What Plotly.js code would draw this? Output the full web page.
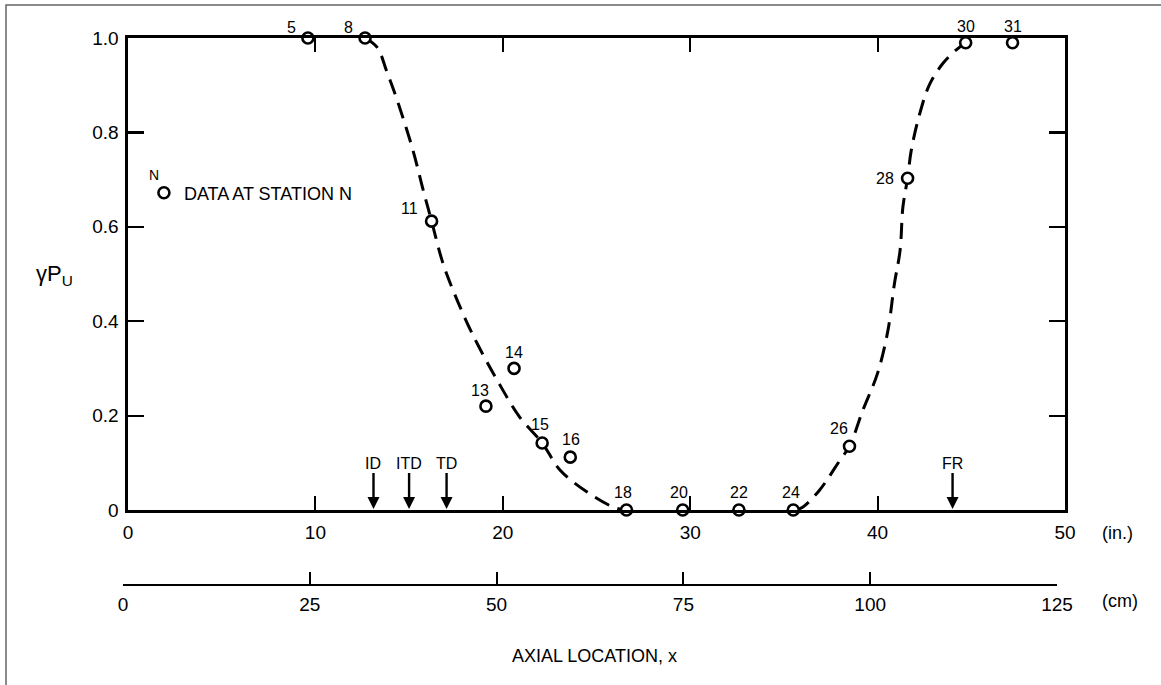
<!DOCTYPE html>
<html>
<head>
<meta charset="utf-8">
<script src="https://cdn.plot.ly/plotly-3.0.1.min.js"></script>
<style>html,body{margin:0;padding:0;background:#fff;}#chart{width:1161px;height:685px;}</style>
</head>
<body>
<div id="chart"></div>
<script>
// ---- data ----
const stations   = ['5','8','11','13','14','15','16','18','20','22','24','26','28','30','31'];
const stationX   = [9.6, 12.65, 16.2, 19.1, 20.6, 22.1, 23.6, 26.6, 29.6, 32.6, 35.5, 38.5, 41.6, 44.7, 47.2];
const stationY   = [1.0, 1.0, 0.612, 0.22, 0.30, 0.142, 0.112, 0.0, 0.0, 0.0, 0.0, 0.135, 0.703, 0.99, 0.99];

const fallCurveX = [12.65, 13.3, 13.8, 14.35, 15.2, 15.75, 16.2, 16.75, 17.2, 18.1, 18.8, 19.7, 20.9, 22.1, 23.05, 24.5, 25.9, 26.5];
const fallCurveY = [1.0, 0.98, 0.93, 0.87, 0.763, 0.678, 0.612, 0.53, 0.48, 0.396, 0.34, 0.275, 0.197, 0.142, 0.085, 0.038, 0.006, 0.0];

const riseCurveX = [35.6, 36.0, 36.9, 38.0, 38.5, 39.2, 40.0, 40.55, 40.9, 41.2, 41.35, 41.6, 41.8, 42.3, 42.8, 43.5, 44.2, 44.7];
const riseCurveY = [0.0, 0.006, 0.042, 0.106, 0.135, 0.21, 0.29, 0.38, 0.48, 0.55, 0.642, 0.703, 0.763, 0.847, 0.904, 0.947, 0.975, 0.99];

const locNames   = ['ID', 'ITD', 'TD', 'FR'];
const locX       = [13.1, 15.0, 17.0, 44.0];

const inchTicks  = [0, 10, 20, 30, 40, 50];
const cmTicks    = [0, 25, 50, 75, 100, 125];
const yTickVals  = [0, 0.2, 0.4, 0.6, 0.8, 1.0];
const yTickText  = ['0', '0.2', '0.4', '0.6', '0.8', '1.0'];

// ---- styling helpers ----
const FONT = "'Liberation Sans', Arial, Helvetica, sans-serif";
const labelShift = { // [xshift, yshift] in px for station labels
  '5':[-16,11], '8':[-17,11], '11':[-22,13], '13':[-6,16], '14':[0,16], '15':[-2,18],
  '16':[1,18], '18':[-3,18], '20':[-4,18], '22':[0,18], '24':[-2,18], '26':[-10,18],
  '28':[-23,0], '30':[0,16], '31':[0,16]
};

const traces = [
  {x: fallCurveX, y: fallCurveY, mode: 'lines', type: 'scatter', showlegend: false,
   line: {color: '#000', width: 3, dash: '16px,9px', shape: 'spline', smoothing: 1}, hoverinfo: 'skip', cliponaxis: false},
  {x: riseCurveX, y: riseCurveY, mode: 'lines', type: 'scatter', showlegend: false,
   line: {color: '#000', width: 3, dash: '16px,9px', shape: 'spline', smoothing: 1}, hoverinfo: 'skip', cliponaxis: false},
  {x: stationX, y: stationY, mode: 'markers', type: 'scatter', name: 'DATA AT STATION N',
   marker: {symbol: 'circle', size: 11, color: '#fff', line: {color: '#000', width: 2.6}}, cliponaxis: false},
  {x: [], y: [], xaxis: 'x2', yaxis: 'y', type: 'scatter', mode: 'markers', showlegend: false}
];

const annotations = [];
stations.forEach((s, i) => {
  const sh = labelShift[s] || [0, 16];
  annotations.push({x: stationX[i], y: stationY[i], xref: 'x', yref: 'y', text: s, showarrow: false,
    xanchor: 'center', yanchor: 'middle',
    xshift: sh[0], yshift: sh[1], font: {family: FONT, size: 16, color: '#000'}});
});
locNames.forEach((n, i) => {
  annotations.push({x: locX[i], y: 0, xref: 'x', yref: 'y', text: n, showarrow: true,
    ax: 0, ay: -47, arrowhead: 2, arrowsize: 1, arrowwidth: 2.4, arrowcolor: '#000', standoff: 1,
    font: {family: FONT, size: 16, color: '#000'}});
});
const paperText = (x, y, text, size) => ({xref: 'paper', yref: 'paper', x: x, y: y, text: text,
  showarrow: false, xanchor: 'center', yanchor: 'middle', font: {family: FONT, size: size, color: '#000'}});
annotations.push(
  paperText(-0.0722, 0.567, 'γP<sub>U</sub>', 22),
  paperText(1.056, 0.095, '(in.)', 18),
  paperText(1.058, -0.029, '(cm)', 18),
  paperText(0.5, -0.13, 'AXIAL LOCATION, x', 18),
  paperText(0.0329, 0.7495, 'N', 14)
);

const axisCommon = {showgrid: false, zeroline: false, ticks: 'inside', tickcolor: '#000',
  linecolor: '#000', showline: true, tickfont: {family: FONT, size: 19, color: '#000'}};

const layout = {
  width: 1161, height: 685,
  margin: {l: 123, r: 96, t: 38, b: 100, pad: 0},
  paper_bgcolor: '#fff', plot_bgcolor: 'rgba(0,0,0,0)',
  font: {family: FONT, color: '#000'},
  showlegend: true,
  legend: {x: 0.0222, y: 0.7166, xanchor: 'left', yanchor: 'middle', bgcolor: 'rgba(0,0,0,0)',
    font: {family: FONT, size: 18, color: '#000'}, borderwidth: 0},
  xaxis: Object.assign({}, axisCommon, {domain: [0.0053, 1], range: [0, 50], tickvals: inchTicks,
    ticklen: 14, tickwidth: 2.2, linewidth: 2.6, mirror: 'ticks', anchor: 'y', ticklabelstandoff: 4}),
  yaxis: Object.assign({}, axisCommon, {domain: [0.1371, 1], range: [0, 1], tickvals: yTickVals,
    ticktext: yTickText, ticklen: 16, tickwidth: 2.2, linewidth: 2.6, mirror: 'ticks', anchor: 'x', ticklabelstandoff: 3}),
  xaxis2: Object.assign({}, axisCommon, {domain: [0, 0.9915], range: [0, 125], tickvals: cmTicks,
    ticklen: 12, tickwidth: 2, linewidth: 2.4, anchor: 'free', position: 0, ticklabelstandoff: 2}),
  shapes: [
    {type: 'rect', xref: 'paper', yref: 'paper', x0: -0.1242, x1: 1.12, y0: -0.2, y1: 1.0603,
     line: {color: '#666', width: 1.5}, fillcolor: 'rgba(0,0,0,0)', layer: 'below'}
  ],
  annotations: annotations
};

Plotly.newPlot('chart', traces, layout, {staticPlot: true, displayModeBar: false});
</script>
</body>
</html>
